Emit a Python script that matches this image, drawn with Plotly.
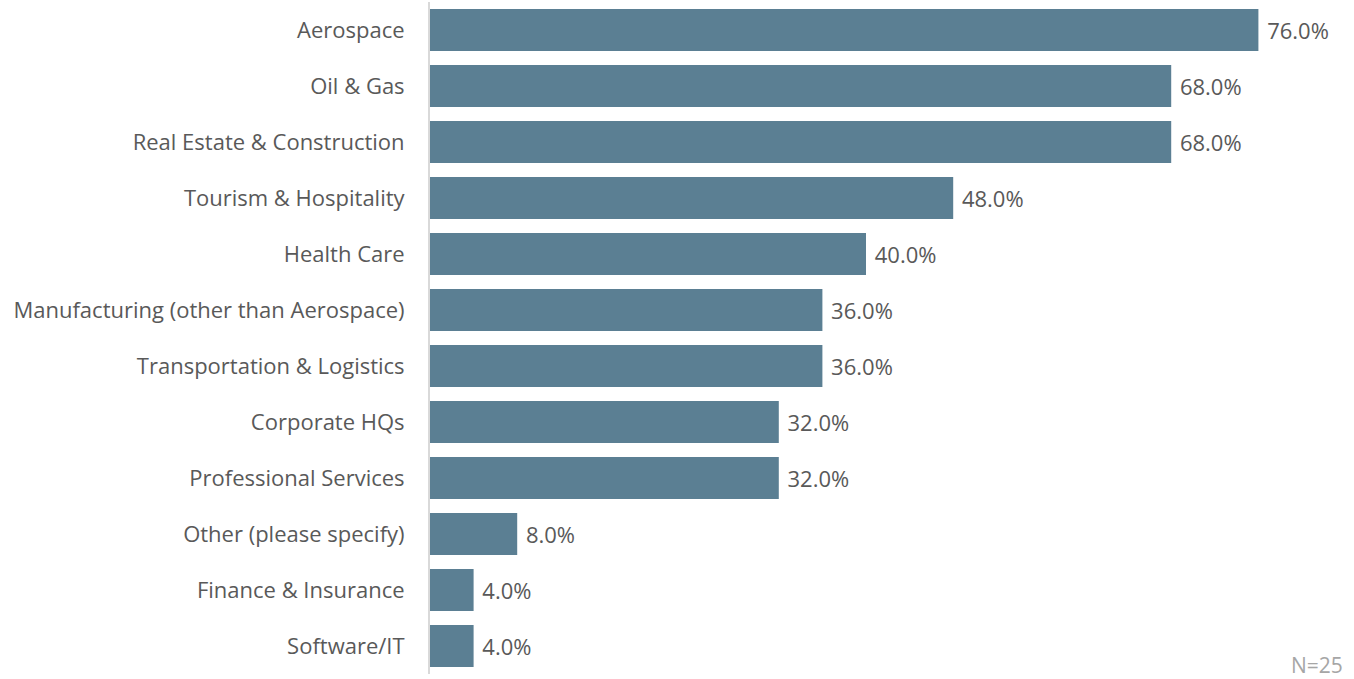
import plotly.graph_objects as go

# Industries surveyed, listed top to bottom
industries = [
    "Aerospace",
    "Oil & Gas",
    "Real Estate & Construction",
    "Tourism & Hospitality",
    "Health Care",
    "Manufacturing (other than Aerospace)",
    "Transportation & Logistics",
    "Corporate HQs",
    "Professional Services",
    "Other (please specify)",
    "Finance & Insurance",
    "Software/IT",
]
# Share of respondents (%)
shares = [76.0, 68.0, 68.0, 48.0, 40.0, 36.0, 36.0, 32.0, 32.0, 8.0, 4.0, 4.0]
sample_note = "N=25"

FONT = "Open Sans"
TEXT_COLOR = "#595959"
BAR_COLOR = "#5b7f93"

fig = go.Figure(
    go.Bar(
        x=shares,
        y=industries,
        orientation="h",
        marker=dict(color=BAR_COLOR, line=dict(width=0)),
        texttemplate=" %{x:.1f}%",
        textposition="outside",
        textfont=dict(family=FONT, size=22, color=TEXT_COLOR),
        cliponaxis=False,
        hoverinfo="skip",
    )
)

fig.update_layout(
    width=1354,
    height=679,
    margin=dict(l=430, r=0, t=2, b=5),
    paper_bgcolor="white",
    plot_bgcolor="white",
    bargap=0.25,
    showlegend=False,
    font=dict(family=FONT, color=TEXT_COLOR),
)

fig.update_xaxes(
    range=[0, 84.77],
    visible=False,
    showgrid=False,
    zeroline=False,
)
fig.update_yaxes(
    autorange="reversed",
    showgrid=False,
    zeroline=False,
    showline=True,
    linecolor="#d9d9d9",
    linewidth=2,
    ticks="",
    ticklabelstandoff=19,
    tickfont=dict(family=FONT, size=22, color=TEXT_COLOR),
)

fig.add_annotation(
    text=sample_note,
    xref="paper",
    yref="paper",
    x=1,
    y=0,
    xanchor="right",
    yanchor="middle",
    xshift=-9,
    yshift=9,
    showarrow=False,
    font=dict(family=FONT, size=21, color="#a6a6a6"),
)

fig.write_html("out.html")
